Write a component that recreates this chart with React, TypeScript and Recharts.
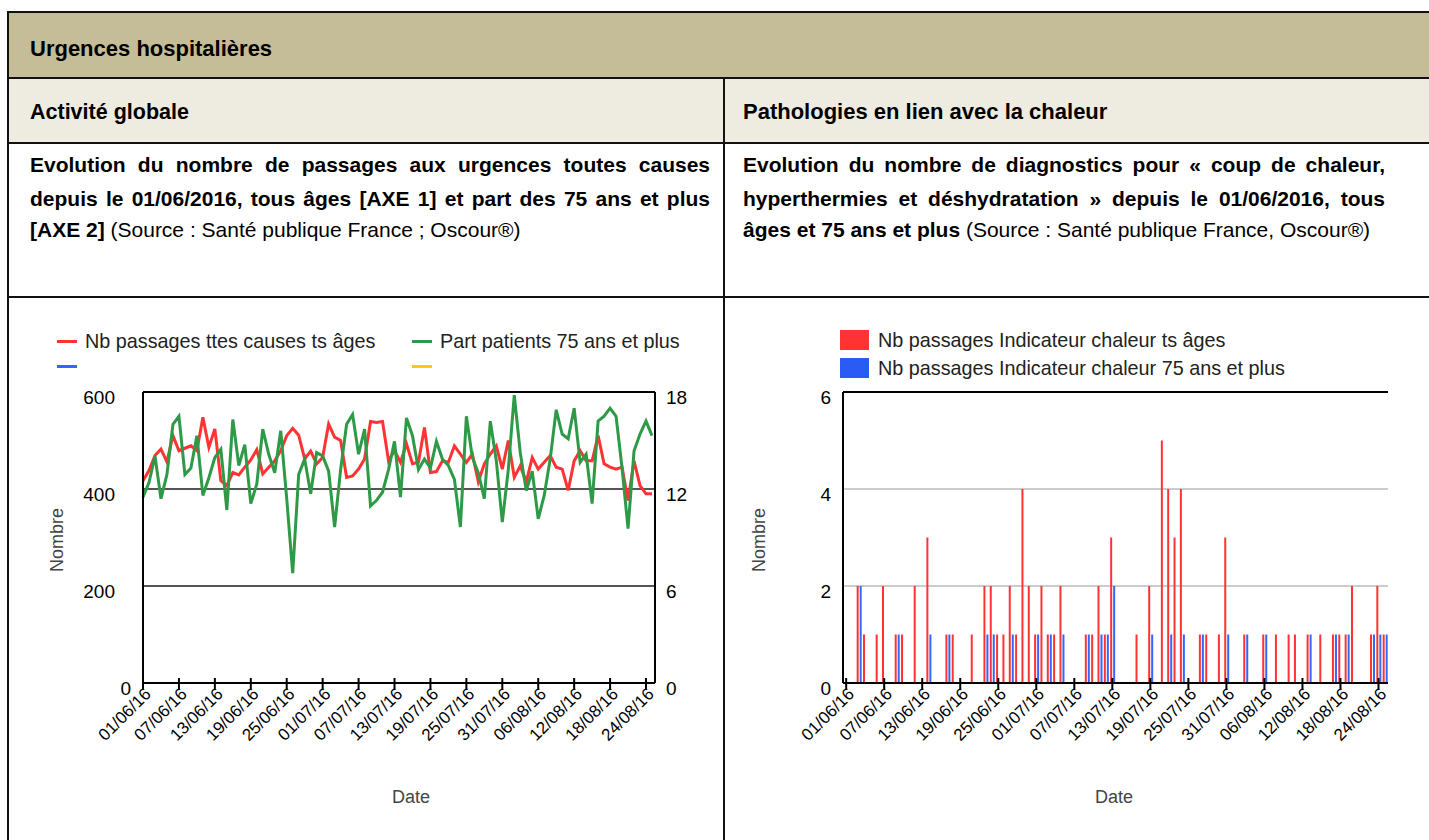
import React from "react";
import { LineChart, Line, BarChart, Bar, XAxis, YAxis, CartesianGrid, ReferenceLine } from "recharts";

const dates = [
  "01/06/16","02/06/16","03/06/16","04/06/16","05/06/16","06/06/16","07/06/16","08/06/16","09/06/16","10/06/16",
  "11/06/16","12/06/16","13/06/16","14/06/16","15/06/16","16/06/16","17/06/16","18/06/16","19/06/16","20/06/16",
  "21/06/16","22/06/16","23/06/16","24/06/16","25/06/16","26/06/16","27/06/16","28/06/16","29/06/16","30/06/16",
  "01/07/16","02/07/16","03/07/16","04/07/16","05/07/16","06/07/16","07/07/16","08/07/16","09/07/16","10/07/16",
  "11/07/16","12/07/16","13/07/16","14/07/16","15/07/16","16/07/16","17/07/16","18/07/16","19/07/16","20/07/16",
  "21/07/16","22/07/16","23/07/16","24/07/16","25/07/16","26/07/16","27/07/16","28/07/16","29/07/16","30/07/16",
  "31/07/16","01/08/16","02/08/16","03/08/16","04/08/16","05/08/16","06/08/16","07/08/16","08/08/16","09/08/16",
  "10/08/16","11/08/16","12/08/16","13/08/16","14/08/16","15/08/16","16/08/16","17/08/16","18/08/16","19/08/16",
  "20/08/16","21/08/16","22/08/16","23/08/16","24/08/16","25/08/16"
];

const passagesTousAges = [
  417,438,469,482,456,510,479,484,489,479,
  548,486,524,417,407,434,429,445,460,481,
  431,445,458,479,510,525,511,462,478,452,
  465,534,507,500,424,427,441,462,539,537,
  539,458,479,455,493,452,455,527,434,436,
  458,455,489,472,455,472,415,452,472,489,
  441,500,424,448,414,465,441,455,469,445,
  441,397,458,479,458,458,510,452,445,441,
  445,376,458,407,390,390
];

const partPatients75 = [
  11.5,12.4,14.05,11.4,12.9,16.0,16.5,12.9,13.3,15.3,
  11.6,12.7,13.95,14.45,10.7,16.3,13.45,14.75,11.1,12.3,
  15.7,14.15,13.0,15.6,11.4,6.8,12.9,13.85,11.7,14.25,
  14.05,13.1,9.65,13.2,16.0,16.6,14.15,15.7,10.95,11.3,
  11.8,13.2,14.95,11.5,16.4,15.3,13.2,13.85,13.3,14.95,
  13.85,13.45,12.6,9.65,16.5,13.95,13.0,11.4,16.2,13.75,
  9.95,13.2,17.8,14.25,11.9,13.1,10.15,11.6,13.85,16.9,
  15.4,15.1,17.0,13.65,14.15,11.1,16.2,16.5,17.0,16.5,
  13.3,9.55,14.35,15.4,16.2,15.3
];

const chaleurTousAges = [
  0,0,2,1,0,1,2,0,1,1,
  0,2,0,3,0,0,1,1,0,0,
  1,0,2,2,1,1,2,1,4,2,
  1,2,1,1,2,0,0,0,1,1,
  2,1,3,0,0,0,1,0,2,0,
  5,4,3,4,0,0,1,1,0,1,
  3,0,0,1,0,0,1,0,1,0,
  1,1,0,1,0,1,0,1,1,1,
  2,0,0,1,2,1
];

const chaleur75 = [
  0,0,2,0,0,0,0,0,1,0,
  0,0,0,1,0,0,1,0,0,0,
  0,0,1,1,0,0,1,0,0,0,
  1,0,1,0,1,0,0,0,1,0,
  1,1,2,0,0,0,0,0,1,0,
  0,1,0,1,0,0,1,0,0,0,
  1,0,0,1,0,0,1,0,0,0,
  0,0,0,1,0,0,0,1,0,1,
  0,0,0,1,1,1
];

const nombreTicks = [0, 200, 400, 600];
const partTicks = [0, 6, 12, 18];
const chaleurTicks = [0, 2, 4, 6];

const lineData = dates.map((d, i) => ({ date: d, tous: passagesTousAges[i], part: partPatients75[i] }));
const barData = dates.map((d, i) => ({ date: d, tous: chaleurTousAges[i], p75: chaleur75[i] }));

const CHART_FONT = "'Liberation Sans', Arial, sans-serif";
const TEXT_FONT = "'Liberation Sans', Arial, sans-serif";

const RED = "#ff3333";
const GREEN = "#2e9a48";
const BLUE = "#3366ff";
const YELLOW = "#ffc61a";

function DateTick(props: any) {
  const { x, y, payload } = props;
  const ax = x + 9;
  const ay = y + 12;
  return (
    <g>
      <line x1={x} x2={x} y1={y - 5} y2={y + 6} stroke="#000" strokeWidth={2} />
      <text x={ax} y={ay} textAnchor="end" transform={`rotate(-45 ${ax} ${ay})`} fontSize={17} fontFamily={CHART_FONT} fill="#000">
        {payload.value}
      </text>
    </g>
  );
}

function LeftNumTick(props: any) {
  const { x, y, payload } = props;
  const off = payload.value === 0 ? 12 : 28;
  return (
    <text x={x - off} y={y + 12} textAnchor="end" fontSize={19} fontFamily={CHART_FONT} fill="#000">
      {payload.value}
    </text>
  );
}

function RightNumTick(props: any) {
  const { x, y, payload } = props;
  return (
    <text x={x + 11} y={y + 12} textAnchor="start" fontSize={19} fontFamily={CHART_FONT} fill="#000">
      {payload.value}
    </text>
  );
}

function BarNumTick(props: any) {
  const { x, y, payload } = props;
  return (
    <text x={x - 12} y={y + 12} textAnchor="end" fontSize={19} fontFamily={CHART_FONT} fill="#000">
      {payload.value}
    </text>
  );
}

const abs = (left: number, top: number, width: number, height: number, extra: React.CSSProperties = {}): React.CSSProperties => ({
  position: "absolute", left, top, width, height, ...extra,
});

const lineStyle: React.CSSProperties = { position: "absolute", fontFamily: TEXT_FONT, fontSize: 21, lineHeight: "24px", color: "#000", whiteSpace: "nowrap" };
const headStyle: React.CSSProperties = { ...lineStyle, fontSize: 22, lineHeight: "26px", fontWeight: "bold" };

function JustLine({ left, top, width, children }: any) {
  return (
    <div style={{ ...lineStyle, left, top, width, fontWeight: "bold", textAlign: "justify", textAlignLast: "justify", whiteSpace: "normal" }}>
      {children}
    </div>
  );
}

const legendText: React.CSSProperties = { position: "absolute", fontFamily: CHART_FONT, fontSize: 19.8, lineHeight: "24px", color: "#222", whiteSpace: "nowrap" };
const axisTitle: React.CSSProperties = { position: "absolute", fontFamily: CHART_FONT, fontSize: 18, color: "#444", whiteSpace: "nowrap" };

export default function App() {
  return (
    <div style={{ position: "absolute", left: 0, top: 0, width: 1429, height: 840, overflow: "hidden", background: "#fff" }}>
      {/* backgrounds */}
      <div style={abs(9, 13, 1420, 64, { background: "#c4bd97" })} />
      <div style={abs(9, 79, 714, 63, { background: "#eeece1" })} />
      <div style={abs(725, 79, 704, 63, { background: "#eeece1" })} />
      {/* borders */}
      <div style={abs(7, 11, 1422, 2, { background: "#111" })} />
      <div style={abs(7, 11, 2, 829, { background: "#111" })} />
      <div style={abs(7, 77, 1422, 2, { background: "#111" })} />
      <div style={abs(7, 142, 1422, 2, { background: "#111" })} />
      <div style={abs(7, 296, 1422, 2, { background: "#111" })} />
      <div style={abs(723, 77, 2, 763, { background: "#111" })} />

      {/* header texts */}
      <div style={{ ...headStyle, left: 30, top: 36 }}>Urgences hospitalières</div>
      <div style={{ ...headStyle, left: 30, top: 99, fontSize: 21.5 }}>Activité globale</div>
      <div style={{ ...headStyle, left: 743, top: 99 }}>Pathologies en lien avec la chaleur</div>

      {/* descriptions */}
      <JustLine left={30} top={153} width={680}>Evolution du nombre de passages aux urgences toutes causes</JustLine>
      <JustLine left={30} top={187} width={680}>depuis le 01/06/2016, tous âges [AXE 1] et part des 75 ans et plus</JustLine>
      <div style={{ ...lineStyle, left: 30, top: 218 }}><b>[AXE 2]</b> (Source : Santé publique France ; Oscour®)</div>

      <JustLine left={743} top={153} width={642}>Evolution du nombre de diagnostics pour « coup de chaleur,</JustLine>
      <JustLine left={743} top={187} width={642}>hyperthermies et déshydratation » depuis le 01/06/2016, tous</JustLine>
      <div style={{ ...lineStyle, left: 743, top: 218 }}><b>âges et 75 ans et plus</b> (Source : Santé publique France, Oscour®)</div>

      {/* left legend */}
      <div style={abs(57, 340, 20, 3, { background: RED })} />
      <div style={{ ...legendText, left: 85, top: 329 }}>Nb passages ttes causes ts âges</div>
      <div style={abs(412, 340, 20, 3, { background: GREEN })} />
      <div style={{ ...legendText, left: 440, top: 329 }}>Part patients 75 ans et plus</div>
      <div style={abs(57, 365, 20, 3, { background: BLUE })} />
      <div style={abs(412, 365, 20, 3, { background: YELLOW })} />

      {/* right legend */}
      <div style={abs(840, 330, 29, 20, { background: RED })} />
      <div style={{ ...legendText, left: 878, top: 328 }}>Nb passages Indicateur chaleur ts âges</div>
      <div style={abs(840, 358, 29, 20, { background: "#2a5cf5" })} />
      <div style={{ ...legendText, left: 878, top: 356 }}>Nb passages Indicateur chaleur 75 ans et plus</div>

      {/* axis titles */}
      <div style={{ ...axisTitle, left: 57, top: 540, transform: "translate(-50%, -50%) rotate(-90deg)" }}>Nombre</div>
      <div style={{ ...axisTitle, left: 411, top: 797, transform: "translate(-50%, -50%)" }}>Date</div>
      <div style={{ ...axisTitle, left: 759, top: 540, transform: "translate(-50%, -50%) rotate(-90deg)" }}>Nombre</div>
      <div style={{ ...axisTitle, left: 1114, top: 797, transform: "translate(-50%, -50%)" }}>Date</div>

      {/* left chart */}
      <div style={{ position: "absolute", left: 0, top: 300 }}>
        <LineChart width={722} height={530} data={lineData} margin={{ top: 92, right: 0, bottom: 47, left: 0 }}>
          <CartesianGrid yAxisId="left" horizontal vertical={false} stroke="#555" strokeWidth={2} />
          <XAxis dataKey="date" interval={5} padding={{ left: 0, right: 3 }} height={100} tickSize={0} tickMargin={0} tickLine={false}
            axisLine={{ stroke: "#000", strokeWidth: 2 }} tick={<DateTick />} />
          <YAxis yAxisId="left" orientation="left" width={143} domain={[0, 600]} ticks={nombreTicks} interval={0}
            tickSize={0} tickMargin={0} tickLine={false} axisLine={{ stroke: "#000", strokeWidth: 2 }} tick={<LeftNumTick />} />
          <YAxis yAxisId="right" orientation="right" width={67} domain={[0, 18]} ticks={partTicks} interval={0}
            tickSize={0} tickMargin={0} tickLine={false} axisLine={{ stroke: "#000", strokeWidth: 2 }} tick={<RightNumTick />} />
          <ReferenceLine yAxisId="left" y={600} stroke="#000" strokeWidth={2} />
          <Line yAxisId="left" type="linear" dataKey="tous" stroke={RED} strokeWidth={3} dot={false} isAnimationActive={false} />
          <Line yAxisId="right" type="linear" dataKey="part" stroke={GREEN} strokeWidth={3} dot={false} isAnimationActive={false} />
        </LineChart>
      </div>

      {/* right chart */}
      <div style={{ position: "absolute", left: 724, top: 300 }}>
        <BarChart width={705} height={530} data={barData} margin={{ top: 92, right: 41, bottom: 47, left: 0 }} barSize={2} barGap={1} barCategoryGap={0}>
          <CartesianGrid horizontal vertical={false} stroke="#cccccc" strokeWidth={2} />
          <XAxis dataKey="date" interval={5} height={100} tickSize={0} tickMargin={0} tickLine={false}
            axisLine={{ stroke: "#000", strokeWidth: 2 }} tick={<DateTick />} />
          <YAxis width={119} domain={[0, 6]} ticks={chaleurTicks} interval={0} tickSize={0} tickMargin={0} tickLine={false}
            axisLine={{ stroke: "#000", strokeWidth: 2 }} tick={<BarNumTick />} />
          <ReferenceLine y={6} stroke="#000" strokeWidth={2} />
          <Bar dataKey="tous" fill={RED} isAnimationActive={false} />
          <Bar dataKey="p75" fill={BLUE} isAnimationActive={false} />
        </BarChart>
      </div>
    </div>
  );
}
